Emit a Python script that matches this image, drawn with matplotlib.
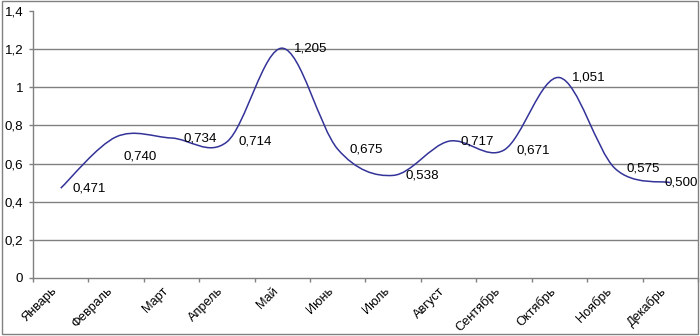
import matplotlib.pyplot as plt
import matplotlib.transforms as mtransforms
from matplotlib.path import Path
from matplotlib.patches import PathPatch, Rectangle

plt.rcParams['font.family'] = ['Liberation Sans', 'DejaVu Sans']

months = ["Январь", "Февраль", "Март", "Апрель", "Май", "Июнь",
          "Июль", "Август", "Сентябрь", "Октябрь", "Ноябрь", "Декабрь"]
values = [0.471, 0.740, 0.734, 0.714, 1.205, 0.675,
          0.538, 0.717, 0.671, 1.051, 0.575, 0.500]
y_ticks = [0, 0.2, 0.4, 0.6, 0.8, 1.0, 1.2, 1.4]
y_labels = ["0", "0,2", "0,4", "0,6", "0,8", "1", "1,2", "1,4"]

fig = plt.figure(figsize=(7, 3.36), dpi=100)
ax = fig.add_axes([33 / 700, 1 - 278 / 336, 665 / 700, 267 / 336])

xs = list(range(len(values)))

# smoothed line like Excel (Catmull-Rom as cubic Bezier)
verts = [(xs[0], values[0])]
codes = [Path.MOVETO]
n = len(values)
for i in range(n - 1):
    p0 = max(i - 1, 0)
    p3 = min(i + 2, n - 1)
    c1 = (xs[i] + (xs[i + 1] - xs[p0]) / 6, values[i] + (values[i + 1] - values[p0]) / 6)
    c2 = (xs[i + 1] - (xs[p3] - xs[i]) / 6, values[i + 1] - (values[p3] - values[i]) / 6)
    verts += [c1, c2, (xs[i + 1], values[i + 1])]
    codes += [Path.CURVE4] * 3
ax.add_patch(PathPatch(Path(verts, codes), facecolor='none',
                       edgecolor='#333399', linewidth=1.1, zorder=3))

# data labels
offsets = {1: (7, -20), 11: (-6, 0)}
for i, v in enumerate(values):
    dx, dy = offsets.get(i, (12, 0))
    ax.annotate(f"{v:.3f}".replace(".", ","), (xs[i], v), xytext=(dx, dy),
                textcoords='offset pixels', ha='left', va='center',
                fontsize=9.6, color='black', zorder=4)

ax.set_xlim(-0.5, n - 0.5)
ax.set_ylim(0, 1.4)

ax.set_yticks(y_ticks)
ax.set_yticklabels(y_labels, fontsize=9.6)
for y in y_ticks[1:-1]:
    ax.axhline(y, color='#808080', linewidth=1, zorder=1)

ax.set_xticks([x - 0.5 for x in xs] + [n - 0.5])
ax.set_xticklabels([])
ax.set_xticks(xs, minor=True)
ax.set_xticklabels(months, minor=True, fontsize=9.2, rotation=45,
                   ha='right', va='top', rotation_mode='anchor')
ax.tick_params(axis='x', which='minor', length=0, pad=5)
shift = mtransforms.ScaledTranslation(-10 / 100, 0, fig.dpi_scale_trans)
for lbl in ax.get_xticklabels(minor=True):
    lbl.set_transform(lbl.get_transform() + shift)

ax.tick_params(axis='both', which='major', length=3, width=1, color='#808080', pad=4)
ax.tick_params(axis='y', direction='out')

for s in ['top', 'right']:
    ax.spines[s].set_visible(False)
for s in ['left', 'bottom']:
    ax.spines[s].set_color('#808080')
    ax.spines[s].set_linewidth(1)

# outer chart border
fig.patches.append(Rectangle((1.5 / 700, 2 / 336), 696.5 / 700, 333 / 336,
                             transform=fig.transFigure, fill=False,
                             edgecolor='#808080', linewidth=1))

fig.savefig("out.png", dpi=100)
